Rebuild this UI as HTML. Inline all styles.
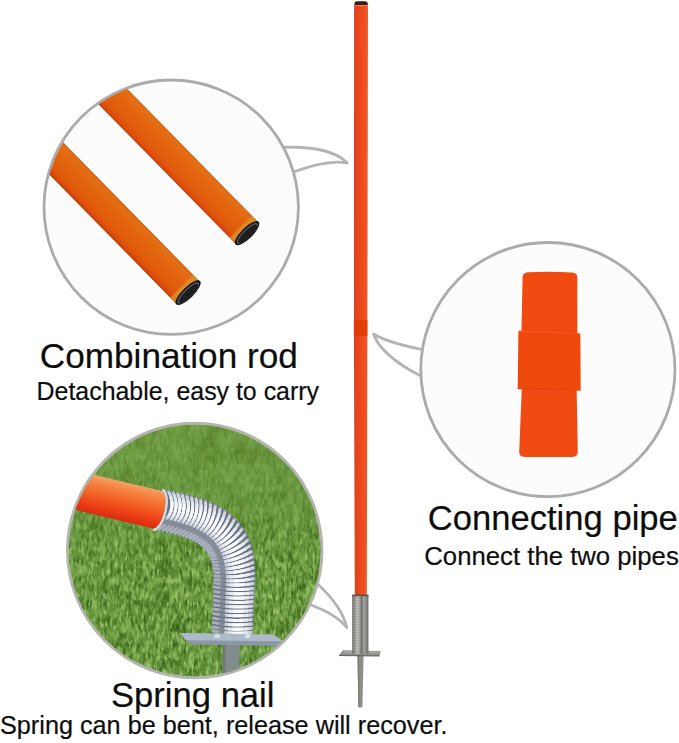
<!DOCTYPE html>
<html><head><meta charset="utf-8">
<style>
html,body{margin:0;padding:0;background:#fff;}
body{width:679px;height:743px;overflow:hidden;position:relative;font-family:"Liberation Sans",sans-serif;}
svg{position:absolute;left:0;top:0;display:block}
text{font-family:"Liberation Sans",sans-serif;fill:#0d0d0d;stroke:#0d0d0d;stroke-width:0.2px;}
</style></head><body>
<svg width="679" height="743" viewBox="0 0 679 743">
<defs>
  <linearGradient id="rodG" x1="0" x2="1" y1="0" y2="0">
    <stop offset="0" stop-color="#d84124"/><stop offset="0.2" stop-color="#e2431f"/><stop offset="0.58" stop-color="#f14b1b"/><stop offset="0.86" stop-color="#ec5425"/><stop offset="1" stop-color="#e6623c"/>
  </linearGradient>
  <linearGradient id="sprG" x1="0" x2="1" y1="0" y2="0">
    <stop offset="0" stop-color="#6c6c68"/><stop offset="0.12" stop-color="#8f8f8b"/><stop offset="0.32" stop-color="#c6c6c2"/><stop offset="0.48" stop-color="#a4a4a0"/><stop offset="0.58" stop-color="#70706c"/><stop offset="0.72" stop-color="#aeaeaa"/><stop offset="0.88" stop-color="#8b8b87"/><stop offset="1" stop-color="#6d6d69"/>
  </linearGradient>
  <linearGradient id="tubeG" gradientUnits="userSpaceOnUse" x1="0" y1="-15" x2="0" y2="16.5">
    <stop offset="0" stop-color="#c9681f"/><stop offset="0.07" stop-color="#e56f14"/><stop offset="0.35" stop-color="#e3650f"/><stop offset="0.78" stop-color="#df5a0c"/><stop offset="0.92" stop-color="#e04a0c"/><stop offset="1" stop-color="#b8430d"/>
  </linearGradient>
  <linearGradient id="grassG" x1="0" x2="0" y1="0" y2="1">
    <stop offset="0" stop-color="#6f9d43"/><stop offset="0.3" stop-color="#6a9a42"/><stop offset="0.55" stop-color="#64953c"/><stop offset="1" stop-color="#5e9038"/>
  </linearGradient>
  <linearGradient id="orG" gradientUnits="userSpaceOnUse" x1="0" y1="-19" x2="0" y2="19.5">
    <stop offset="0" stop-color="#f4a366"/><stop offset="0.22" stop-color="#f5803f"/><stop offset="0.55" stop-color="#f35a22"/><stop offset="0.82" stop-color="#e93b14"/><stop offset="1" stop-color="#d92c10"/>
  </linearGradient>
  <linearGradient id="mG" x1="0" x2="0" y1="0" y2="1">
    <stop offset="0" stop-color="#fff" stop-opacity="0.25"/><stop offset="0.3" stop-color="#fff" stop-opacity="0.4"/><stop offset="0.55" stop-color="#fff" stop-opacity="0.95"/><stop offset="1" stop-color="#fff" stop-opacity="1"/>
  </linearGradient>
  <linearGradient id="mT" x1="0" x2="0" y1="0" y2="1">
    <stop offset="0" stop-color="#fff" stop-opacity="1"/><stop offset="0.35" stop-color="#fff" stop-opacity="0.8"/><stop offset="0.6" stop-color="#fff" stop-opacity="0.15"/><stop offset="1" stop-color="#fff" stop-opacity="0"/>
  </linearGradient>
  <mask id="mk" maskUnits="userSpaceOnUse" x="60" y="420" width="270" height="262"><rect x="60" y="420" width="270" height="262" fill="url(#mG)"/></mask>
  <mask id="mkT" maskUnits="userSpaceOnUse" x="60" y="420" width="270" height="262"><rect x="60" y="420" width="270" height="262" fill="url(#mT)"/></mask>
  <pattern id="ridge" patternUnits="userSpaceOnUse" x="0" y="595" width="20" height="1.6"><rect x="0" y="0" width="20" height="0.7" fill="#5e5e5a"/></pattern>
  <clipPath id="c1"><circle cx="171.2" cy="207.2" r="126"/></clipPath>
  <clipPath id="c3"><circle cx="194.7" cy="550.5" r="126"/></clipPath>
  <filter id="gl" x="0" y="0" width="100%" height="100%" color-interpolation-filters="sRGB">
    <feTurbulence type="fractalNoise" baseFrequency="0.16 0.085" numOctaves="3" seed="11"/>
    <feColorMatrix type="matrix" values="0 0 0 0 0.57  0 0 0 0 0.74  0 0 0 0 0.38  2.3 0 0 0 -1.0"/>
  </filter>
  <filter id="gd" x="0" y="0" width="100%" height="100%" color-interpolation-filters="sRGB">
    <feTurbulence type="fractalNoise" baseFrequency="0.07 0.05" numOctaves="3" seed="5"/>
    <feColorMatrix type="matrix" values="0 0 0 0 0.22  0 0 0 0 0.40  0 0 0 0 0.09  0 2.4 0 0 -1.0"/>
  </filter>
  <filter id="gf" x="0" y="0" width="100%" height="100%" color-interpolation-filters="sRGB">
    <feTurbulence type="fractalNoise" baseFrequency="0.38 0.13" numOctaves="2" seed="41"/>
    <feColorMatrix type="matrix" values="0 0 0 0 0.64  0 0 0 0 0.79  0 0 0 0 0.44  2.6 0 0 0 -1.22"/>
  </filter>
  <filter id="gf2" x="0" y="0" width="100%" height="100%" color-interpolation-filters="sRGB">
    <feTurbulence type="fractalNoise" baseFrequency="0.3 0.12" numOctaves="2" seed="77"/>
    <feColorMatrix type="matrix" values="0 0 0 0 0.2  0 0 0 0 0.36  0 0 0 0 0.08  0 2.6 0 0 -1.25"/>
  </filter>
  <filter id="gt" x="0" y="0" width="100%" height="100%" color-interpolation-filters="sRGB">
    <feTurbulence type="fractalNoise" baseFrequency="0.045 0.03" numOctaves="2" seed="23"/>
    <feColorMatrix type="matrix" values="0 0 0 0 0.36  0 0 0 0 0.52  0 0 0 0 0.16  2.2 0 0 0 -0.95"/>
  </filter>
</defs>

<!-- main rod -->
<polygon points="354.1,4.5 368,4.5 367.4,330 366.8,595 354.8,595 353.9,330" fill="url(#rodG)"/>
<path d="M354.5,5 L354.5,3.2 Q354.5,1.2 357.5,1.2 L364.6,1.2 Q367.6,1.2 367.6,3.2 L367.6,5 Z" fill="#3a1c15"/>
<rect x="354.4" y="5" width="13.3" height="0.9" fill="#f08a68"/>
<rect x="353.9" y="319.8" width="13.5" height="16.2" fill="#e13a06" opacity="0.8"/>
<!-- main spring -->
<polygon points="357.5,655 363.6,655 362.4,707.3 358.4,707.3" fill="#8d8e87"/>
<polygon points="357.5,655 359,655 359.5,707.3 358.4,707.3" fill="#7a7b75"/>
<polygon points="343.1,650.2 380.8,651 379.4,656.1 338.8,655.6" fill="#8c8c88"/>
<polygon points="345,651 379.5,651.6 378.8,653.6 343,653.2" fill="#a6a6a2"/>
<polygon points="339.2,655 379.6,655.5 379.4,656.6 338.8,656.1" fill="#5f5f5b"/>
<rect x="352.2" y="595" width="16.2" height="59" fill="url(#sprG)"/>
<rect x="352.2" y="595" width="16.2" height="59" fill="url(#ridge)" opacity="0.28"/>
<rect x="352.2" y="594.6" width="16.2" height="1.6" fill="#55554f"/>

<!-- tails -->
<g fill="none" stroke="#b3b3b3" stroke-width="2.7" stroke-linejoin="round">
<path d="M283,147.3 C308,146.5 335,150 347.3,163 C333,160 312,165 292,172.6"/>
<path d="M424,349.8 C404,346 385,341 373.6,334 C378,348 396,364 423,377"/>
<path d="M316,582.5 C331,596 343,611 346.8,627.6 C339,618 325,610 309,604.3"/>
</g>
<!-- circle 1 -->
<circle cx="171.2" cy="207.2" r="127.2" fill="#fdfcfc" stroke="#ababab" stroke-width="2.8"/>
<g clip-path="url(#c1)">
  <g transform="translate(248,233) rotate(45.5)">
    <rect x="-230" y="-15" width="230" height="31.5" fill="url(#tubeG)"/>
    <rect x="-9.5" y="-15" width="6" height="31.5" fill="#d9952f" opacity="0.75"/>
    <ellipse cx="-0.5" cy="0.75" rx="5.6" ry="16.2" fill="#181615"/>
    <ellipse cx="-0.2" cy="0.75" rx="3.6" ry="13.4" fill="none" stroke="#5b6672" stroke-width="1.2"/>
    <ellipse cx="0.8" cy="0.9" rx="3.2" ry="12.6" fill="#1f1e1f"/>
  </g>
  <g transform="translate(189,292.5) rotate(45.5)">
    <rect x="-230" y="-15.5" width="230" height="32.5" fill="url(#tubeG)"/>
    <rect x="-9.5" y="-15.5" width="6" height="32.5" fill="#d9952f" opacity="0.75"/>
    <ellipse cx="-0.5" cy="0.75" rx="5.6" ry="16.7" fill="#181615"/>
    <ellipse cx="-0.2" cy="0.75" rx="3.6" ry="13.8" fill="none" stroke="#5b6672" stroke-width="1.2"/>
    <ellipse cx="0.8" cy="0.9" rx="3.2" ry="13" fill="#1f1e1f"/>
  </g>
</g>
<!-- tail 1 -->


<!-- circle 2 -->
<circle cx="547.9" cy="369.6" r="127.1" fill="#fdfcfc" stroke="#ababab" stroke-width="2.8"/>

<path d="M521.4,333 L522.6,277 Q522.8,272.6 528,272.2 Q550,271.2 572,272.4 Q577.2,272.8 577.3,277 L577.3,335 Z" fill="#f04a10"/>
<path d="M521.8,388 L576.6,388 L577.8,452 Q577.8,456.9 572,456.9 L525,456.9 Q519.1,456.9 519.2,452 Z" fill="#ef4b12"/>
<path d="M518.4,330.7 L550,331.4 L580.3,333.4 L580.7,390.6 L550,389.8 L517.7,389.1 Z" fill="#ef480d"/>
<path d="M517.7,388.3 L550,389 L580.7,389.8 L580.7,390.8 L550,390 L517.7,389.3 Z" fill="#d8430f" opacity="0.6"/>
<path d="M518.4,330.7 L550,331.4 L580.3,333.4 L580.3,334.6 L550,332.6 L518.4,331.9 Z" fill="#f66a35" opacity="0.55"/>

<!-- circle 3 grass -->
<circle cx="194.7" cy="550.5" r="127.2" fill="url(#grassG)" stroke="#b3b5ae" stroke-width="3"/>
<g clip-path="url(#c3)">
  <g mask="url(#mkT)"><rect x="60" y="420" width="270" height="262" filter="url(#gt)"/></g>
  <g mask="url(#mk)">
    <rect x="60" y="420" width="270" height="262" filter="url(#gd)"/>
    <rect x="60" y="420" width="270" height="262" filter="url(#gl)"/>
    <rect x="60" y="420" width="270" height="262" filter="url(#gf2)"/>
    <rect x="60" y="420" width="270" height="262" filter="url(#gf)"/>
  </g>
  <!-- spring -->
<path d="M164.6,489.6 L166.0,489.9 L167.0,490.1 L167.9,490.3 L168.9,490.5 L169.9,490.7 L170.9,490.9 L171.9,491.1 L172.9,491.3 L174.2,491.6 L175.2,491.8 L176.2,492.0 L177.2,492.2 L178.2,492.5 L179.5,492.8 L180.5,493.0 L181.5,493.2 L182.4,493.4 L183.8,493.8 L184.7,494.0 L185.7,494.2 L187.0,494.6 L188.0,494.8 L189.0,495.1 L190.3,495.4 L191.2,495.7 L192.2,495.9 L193.5,496.3 L194.5,496.6 L195.8,497.0 L196.7,497.2 L198.0,497.6 L199.0,497.9 L200.3,498.4 L201.3,498.7 L202.5,499.1 L203.5,499.4 L204.8,499.9 L206.1,500.4 L207.0,500.7 L208.3,501.2 L209.2,501.6 L210.5,502.2 L211.8,502.7 L212.7,503.1 L214.0,503.7 L215.2,504.3 L216.5,505.0 L217.4,505.4 L218.7,506.1 L219.9,506.8 L221.1,507.5 L222.3,508.2 L223.2,508.8 L224.4,509.6 L225.6,510.4 L226.8,511.2 L228.0,512.1 L229.1,513.0 L230.3,513.9 L231.4,514.8 L232.2,515.6 L233.3,516.6 L234.4,517.6 L235.4,518.7 L236.5,519.7 L237.5,520.9 L238.5,522.0 L239.5,523.2 L240.2,524.1 L241.1,525.3 L242.0,526.5 L242.9,527.8 L243.7,529.1 L244.4,530.1 L245.2,531.4 L245.9,532.8 L246.7,534.2 L247.2,535.2 L247.9,536.6 L248.5,538.1 L249.0,539.2 L249.6,540.6 L250.0,541.8 L250.6,543.3 L250.9,544.4 L251.4,545.9 L251.8,547.1 L252.1,548.3 L252.5,549.9 L252.8,551.0 L253.1,552.2 L253.4,553.8 L253.6,555.1 L253.8,556.3 L254.0,557.5 L254.2,558.8 L254.4,560.0 L254.5,561.3 L254.7,562.5 L254.8,563.8 L254.9,565.1 L255.0,566.3 L255.1,567.6 L255.1,568.9 L255.2,570.2 L255.3,571.5 L255.3,572.9 L255.3,573.7 L255.3,575.1 L255.3,576.4 L255.3,577.3 L255.3,578.7 L255.2,580.0 L255.2,581.0 L255.2,582.3 L255.1,583.3 L255.0,584.6 L255.0,585.6 L254.9,586.7 L254.8,587.8 L254.8,588.7 L254.7,589.7 L254.6,590.8 L254.6,591.8 L254.5,592.7 L254.5,593.6 L254.4,594.8 L254.4,595.7 L254.3,596.6 L254.2,597.8 L254.2,598.7 L254.2,599.7 L254.1,600.8 L254.1,601.8 L254.0,602.7 L254.0,603.6 L253.9,604.8 L253.9,605.7 L253.8,606.6 L253.8,607.8 L253.8,608.7 L253.7,609.7 L253.7,610.8 L253.6,611.7 L253.6,612.7 L253.6,613.6 L253.5,614.8 L253.5,615.7 L253.4,616.6 L253.4,617.8 L253.4,618.7 L253.3,619.7 L253.3,620.8 L253.3,621.7 L253.2,622.7 L253.2,623.6 L253.2,624.8 L253.1,625.7 L253.1,626.6 L253.0,627.8 L253.0,628.7 L253.0,629.6 L252.9,630.8 L252.9,631.7 L211.9,630.3 L212.0,629.4 L212.0,628.2 L212.0,627.3 L212.1,626.4 L212.1,625.2 L212.1,624.3 L212.2,623.4 L212.2,622.2 L212.2,621.3 L212.3,620.3 L212.3,619.4 L212.3,618.2 L212.4,617.3 L212.4,616.4 L212.5,615.2 L212.5,614.3 L212.5,613.4 L212.6,612.2 L212.6,611.3 L212.6,610.3 L212.7,609.4 L212.7,608.2 L212.7,607.3 L212.8,606.4 L212.8,605.2 L212.8,604.3 L212.9,603.4 L212.9,602.2 L212.9,601.3 L213.0,600.3 L213.0,599.4 L213.1,598.2 L213.1,597.3 L213.1,596.4 L213.2,595.2 L213.2,594.3 L213.2,593.4 L213.3,592.2 L213.3,591.3 L213.4,590.3 L213.4,589.4 L213.4,588.2 L213.5,587.3 L213.5,586.4 L213.6,585.2 L213.6,584.4 L213.6,583.8 L213.6,582.7 L213.6,582.1 L213.7,581.1 L213.7,580.5 L213.7,579.5 L213.6,578.6 L213.6,578.0 L213.6,577.0 L213.6,576.2 L213.5,575.6 L213.5,574.7 L213.4,573.9 L213.4,573.0 L213.3,572.2 L213.2,571.4 L213.1,570.6 L213.0,569.9 L212.9,569.1 L212.8,568.4 L212.7,567.7 L212.6,567.0 L212.4,566.3 L212.3,565.6 L212.2,564.9 L212.0,564.3 L211.8,563.4 L211.6,562.8 L211.5,562.2 L211.3,561.4 L211.1,560.9 L210.9,560.3 L210.6,559.6 L210.4,559.0 L210.2,558.3 L210.0,557.8 L209.7,557.2 L209.5,556.7 L209.2,556.1 L208.9,555.5 L208.6,555.0 L208.3,554.4 L208.0,553.9 L207.6,553.3 L207.4,552.9 L207.0,552.4 L206.7,551.8 L206.3,551.3 L205.9,550.8 L205.6,550.5 L205.2,550.0 L204.8,549.5 L204.4,549.0 L203.9,548.6 L203.5,548.1 L203.0,547.7 L202.6,547.2 L202.2,546.9 L201.7,546.5 L201.2,546.1 L200.7,545.7 L200.2,545.2 L199.6,544.8 L199.1,544.4 L198.5,544.0 L198.1,543.7 L197.5,543.3 L196.8,543.0 L196.2,542.6 L195.6,542.2 L195.1,541.9 L194.4,541.5 L193.7,541.2 L193.0,540.8 L192.4,540.5 L191.7,540.2 L190.9,539.8 L190.4,539.6 L189.6,539.2 L189.0,539.0 L188.2,538.6 L187.4,538.3 L186.7,538.1 L185.9,537.7 L185.2,537.5 L184.4,537.2 L183.7,536.9 L182.8,536.6 L182.1,536.4 L181.2,536.1 L180.5,535.8 L179.5,535.5 L178.8,535.3 L178.0,535.1 L177.0,534.8 L176.3,534.6 L175.5,534.4 L174.5,534.1 L173.7,533.9 L172.9,533.7 L171.9,533.4 L171.1,533.2 L170.3,533.0 L169.4,532.8 L168.3,532.5 L167.5,532.3 L166.7,532.1 L165.8,531.9 L165.0,531.7 L163.8,531.5 L163.0,531.3 L162.1,531.1 L161.2,530.9 L160.3,530.7 L159.4,530.5 L158.5,530.3 L157.6,530.1 L156.4,529.9Z" fill="#687180"/>
<path d="M153.6,529.3 L159.7,525.3 L164.6,521.1 L168.3,516.6 L170.7,511.9 L171.9,506.9 L171.9,501.6 L170.6,496.1 L168.1,490.3" fill="none" stroke="#a9b0bb" stroke-width="2.90" stroke-linecap="butt"/>
<path d="M161.6,523.8 L162.3,523.3 L162.9,522.7 L163.5,522.2 L164.1,521.6 L164.6,521.1 L165.2,520.5 L165.7,519.9 L166.2,519.3" fill="none" stroke="#838b98" stroke-width="2.90" stroke-linecap="butt"/>
<path d="M166.5,519.0 L168.7,516.0 L170.3,512.9 L171.4,509.7 L171.9,506.4 L172.0,502.9 L171.5,499.4 L170.5,495.7 L168.9,492.0" fill="none" stroke="#d2d7df" stroke-width="2.90" stroke-linecap="butt"/>
<path d="M168.6,516.1 L169.9,513.8 L170.8,511.5 L171.5,509.1 L171.9,506.7 L172.0,504.2 L171.9,501.6 L171.4,499.0 L170.7,496.3" fill="none" stroke="#e8ebf1" stroke-width="2.90" stroke-linecap="butt"/>
<path d="M170.7,511.9 L171.1,510.7 L171.4,509.4 L171.7,508.2 L171.9,506.9 L172.0,505.6 L172.0,504.3 L172.0,503.0 L171.9,501.6" fill="none" stroke="#f9fafc" stroke-width="2.80" stroke-linecap="butt"/>
<path d="M157.9,530.2 L163.9,526.2 L168.7,522.0 L172.3,517.6 L174.7,512.8 L175.9,507.8 L176.0,502.6 L174.9,497.1 L172.6,491.3" fill="none" stroke="#a9b0bb" stroke-width="2.90" stroke-linecap="butt"/>
<path d="M165.7,524.7 L166.4,524.2 L167.0,523.6 L167.6,523.1 L168.2,522.5 L168.7,522.0 L169.2,521.4 L169.8,520.8 L170.3,520.3" fill="none" stroke="#838b98" stroke-width="2.90" stroke-linecap="butt"/>
<path d="M170.5,519.9 L172.7,516.9 L174.3,513.9 L175.4,510.6 L176.0,507.3 L176.1,503.9 L175.7,500.3 L174.8,496.7 L173.4,492.9" fill="none" stroke="#d2d7df" stroke-width="2.90" stroke-linecap="butt"/>
<path d="M172.6,517.0 L173.9,514.8 L174.8,512.5 L175.5,510.1 L176.0,507.6 L176.1,505.1 L176.0,502.6 L175.6,500.0 L175.0,497.3" fill="none" stroke="#e8ebf1" stroke-width="2.90" stroke-linecap="butt"/>
<path d="M174.7,512.8 L175.1,511.6 L175.5,510.4 L175.7,509.1 L175.9,507.8 L176.1,506.5 L176.1,505.2 L176.1,503.9 L176.0,502.6" fill="none" stroke="#f9fafc" stroke-width="2.80" stroke-linecap="butt"/>
<path d="M162.1,531.1 L168.0,527.1 L172.6,523.0 L176.2,518.5 L178.6,513.9 L179.9,508.8 L180.1,503.6 L179.2,498.0 L177.1,492.3" fill="none" stroke="#a9b0bb" stroke-width="2.90" stroke-linecap="butt"/>
<path d="M169.8,525.7 L170.4,525.1 L171.0,524.6 L171.6,524.0 L172.1,523.5 L172.7,522.9 L173.2,522.4 L173.7,521.8 L174.2,521.2" fill="none" stroke="#838b98" stroke-width="2.90" stroke-linecap="butt"/>
<path d="M174.5,520.9 L176.6,517.9 L178.2,514.9 L179.3,511.7 L180.0,508.3 L180.2,504.9 L179.9,501.3 L179.1,497.7 L177.8,493.9" fill="none" stroke="#d2d7df" stroke-width="2.90" stroke-linecap="butt"/>
<path d="M176.5,518.0 L177.8,515.8 L178.8,513.5 L179.5,511.1 L180.0,508.6 L180.2,506.1 L180.1,503.6 L179.8,501.0 L179.2,498.3" fill="none" stroke="#e8ebf1" stroke-width="2.90" stroke-linecap="butt"/>
<path d="M178.6,513.9 L179.1,512.6 L179.4,511.4 L179.7,510.1 L179.9,508.8 L180.1,507.6 L180.2,506.2 L180.2,504.9 L180.1,503.6" fill="none" stroke="#f9fafc" stroke-width="2.80" stroke-linecap="butt"/>
<path d="M166.2,532.0 L171.9,528.1 L176.5,524.0 L180.0,519.6 L182.5,514.9 L183.8,509.9 L184.2,504.6 L183.4,499.1 L181.5,493.3" fill="none" stroke="#a9b0bb" stroke-width="2.90" stroke-linecap="butt"/>
<path d="M173.7,526.7 L174.3,526.1 L174.9,525.6 L175.4,525.0 L176.0,524.5 L176.5,523.9 L177.0,523.4 L177.5,522.8 L178.0,522.3" fill="none" stroke="#838b98" stroke-width="2.90" stroke-linecap="butt"/>
<path d="M178.3,521.9 L180.4,519.0 L182.0,515.9 L183.2,512.7 L183.9,509.4 L184.2,506.0 L184.0,502.4 L183.3,498.7 L182.2,494.9" fill="none" stroke="#d2d7df" stroke-width="2.90" stroke-linecap="butt"/>
<path d="M180.4,519.0 L181.6,516.8 L182.6,514.5 L183.4,512.2 L183.9,509.7 L184.1,507.2 L184.2,504.6 L183.9,502.0 L183.4,499.3" fill="none" stroke="#e8ebf1" stroke-width="2.90" stroke-linecap="butt"/>
<path d="M182.5,514.9 L182.9,513.7 L183.3,512.5 L183.6,511.2 L183.8,509.9 L184.0,508.6 L184.1,507.3 L184.2,506.0 L184.2,504.6" fill="none" stroke="#f9fafc" stroke-width="2.80" stroke-linecap="butt"/>
<path d="M170.4,533.0 L176.0,529.2 L180.5,525.1 L184.0,520.8 L186.5,516.2 L188.0,511.2 L188.5,505.9 L187.9,500.3 L186.3,494.4" fill="none" stroke="#a9b0bb" stroke-width="2.90" stroke-linecap="butt"/>
<path d="M177.7,527.8 L178.3,527.2 L178.9,526.7 L179.5,526.2 L180.0,525.6 L180.5,525.1 L181.1,524.5 L181.5,524.0 L182.0,523.4" fill="none" stroke="#838b98" stroke-width="2.90" stroke-linecap="butt"/>
<path d="M182.3,523.1 L184.4,520.2 L186.1,517.2 L187.3,514.0 L188.1,510.6 L188.4,507.2 L188.3,503.6 L187.8,499.9 L186.8,496.1" fill="none" stroke="#d2d7df" stroke-width="2.90" stroke-linecap="butt"/>
<path d="M184.4,520.2 L185.6,518.0 L186.7,515.8 L187.5,513.4 L188.0,510.9 L188.4,508.4 L188.5,505.9 L188.3,503.2 L187.9,500.5" fill="none" stroke="#e8ebf1" stroke-width="2.90" stroke-linecap="butt"/>
<path d="M186.5,516.2 L187.0,514.9 L187.4,513.7 L187.7,512.4 L188.0,511.2 L188.2,509.9 L188.3,508.5 L188.4,507.2 L188.5,505.9" fill="none" stroke="#f9fafc" stroke-width="2.80" stroke-linecap="butt"/>
<path d="M174.4,534.0 L179.9,530.3 L184.4,526.3 L187.9,522.1 L190.4,517.5 L192.0,512.5 L192.7,507.2 L192.3,501.6 L191.0,495.7" fill="none" stroke="#a9b0bb" stroke-width="2.90" stroke-linecap="butt"/>
<path d="M181.6,528.9 L182.2,528.4 L182.8,527.9 L183.3,527.4 L183.9,526.8 L184.4,526.3 L184.9,525.8 L185.4,525.2 L185.9,524.7" fill="none" stroke="#838b98" stroke-width="2.90" stroke-linecap="butt"/>
<path d="M186.2,524.3 L188.3,521.5 L190.0,518.5 L191.3,515.3 L192.1,512.0 L192.6,508.5 L192.7,504.9 L192.3,501.2 L191.5,497.4" fill="none" stroke="#d2d7df" stroke-width="2.90" stroke-linecap="butt"/>
<path d="M188.2,521.5 L189.5,519.4 L190.6,517.1 L191.4,514.7 L192.1,512.3 L192.5,509.8 L192.7,507.2 L192.6,504.5 L192.4,501.8" fill="none" stroke="#e8ebf1" stroke-width="2.90" stroke-linecap="butt"/>
<path d="M190.4,517.5 L190.9,516.3 L191.3,515.0 L191.7,513.8 L192.0,512.5 L192.3,511.2 L192.5,509.9 L192.6,508.5 L192.7,507.2" fill="none" stroke="#f9fafc" stroke-width="2.80" stroke-linecap="butt"/>
<path d="M178.2,535.1 L183.6,531.5 L188.1,527.6 L191.6,523.4 L194.2,518.9 L196.0,513.9 L196.8,508.6 L196.8,503.0 L195.8,497.0" fill="none" stroke="#a9b0bb" stroke-width="2.90" stroke-linecap="butt"/>
<path d="M185.3,530.1 L185.9,529.6 L186.5,529.1 L187.0,528.6 L187.6,528.1 L188.1,527.6 L188.6,527.1 L189.1,526.5 L189.6,526.0" fill="none" stroke="#838b98" stroke-width="2.90" stroke-linecap="butt"/>
<path d="M189.9,525.6 L192.0,522.8 L193.7,519.9 L195.1,516.7 L196.1,513.4 L196.7,509.9 L196.9,506.3 L196.7,502.6 L196.1,498.7" fill="none" stroke="#d2d7df" stroke-width="2.90" stroke-linecap="butt"/>
<path d="M192.0,522.9 L193.3,520.8 L194.4,518.5 L195.3,516.2 L196.0,513.7 L196.5,511.2 L196.8,508.6 L196.9,505.9 L196.8,503.2" fill="none" stroke="#e8ebf1" stroke-width="2.90" stroke-linecap="butt"/>
<path d="M194.2,518.9 L194.7,517.7 L195.2,516.5 L195.6,515.2 L196.0,513.9 L196.3,512.6 L196.5,511.3 L196.7,509.9 L196.8,508.6" fill="none" stroke="#f9fafc" stroke-width="2.80" stroke-linecap="butt"/>
<path d="M181.8,536.2 L187.1,532.8 L191.6,529.0 L195.2,524.9 L197.9,520.5 L199.8,515.5 L200.9,510.1 L201.1,504.5 L200.4,498.5" fill="none" stroke="#a9b0bb" stroke-width="2.90" stroke-linecap="butt"/>
<path d="M188.8,531.4 L189.4,531.0 L190.0,530.5 L190.6,530.0 L191.1,529.5 L191.6,529.0 L192.1,528.4 L192.6,527.9 L193.1,527.4" fill="none" stroke="#838b98" stroke-width="2.90" stroke-linecap="butt"/>
<path d="M193.4,527.1 L195.6,524.3 L197.4,521.4 L198.9,518.3 L200.0,514.9 L200.7,511.5 L201.1,507.8 L201.1,504.1 L200.7,500.2" fill="none" stroke="#d2d7df" stroke-width="2.90" stroke-linecap="butt"/>
<path d="M195.5,524.4 L196.9,522.3 L198.1,520.1 L199.1,517.7 L199.9,515.3 L200.5,512.7 L200.9,510.1 L201.1,507.5 L201.1,504.7" fill="none" stroke="#e8ebf1" stroke-width="2.90" stroke-linecap="butt"/>
<path d="M197.9,520.5 L198.4,519.3 L199.0,518.0 L199.4,516.7 L199.8,515.5 L200.2,514.2 L200.5,512.8 L200.7,511.5 L200.9,510.1" fill="none" stroke="#f9fafc" stroke-width="2.80" stroke-linecap="butt"/>
<path d="M185.4,537.5 L190.7,534.2 L195.2,530.6 L198.8,526.6 L201.6,522.3 L203.8,517.3 L205.2,511.9 L205.7,506.3 L205.4,500.2" fill="none" stroke="#a9b0bb" stroke-width="2.90" stroke-linecap="butt"/>
<path d="M192.4,532.9 L193.0,532.5 L193.6,532.0 L194.1,531.5 L194.7,531.0 L195.2,530.5 L195.7,530.0 L196.2,529.5 L196.7,529.0" fill="none" stroke="#838b98" stroke-width="2.90" stroke-linecap="butt"/>
<path d="M197.0,528.7 L199.2,526.0 L201.1,523.2 L202.7,520.1 L204.0,516.7 L204.9,513.3 L205.5,509.6 L205.7,505.9 L205.6,502.0" fill="none" stroke="#d2d7df" stroke-width="2.90" stroke-linecap="butt"/>
<path d="M199.2,526.1 L200.6,524.0 L201.9,521.9 L203.0,519.5 L203.9,517.1 L204.6,514.5 L205.2,511.9 L205.5,509.2 L205.7,506.5" fill="none" stroke="#e8ebf1" stroke-width="2.90" stroke-linecap="butt"/>
<path d="M201.6,522.3 L202.3,521.0 L202.8,519.8 L203.3,518.5 L203.8,517.3 L204.2,516.0 L204.6,514.6 L204.9,513.3 L205.2,511.9" fill="none" stroke="#f9fafc" stroke-width="2.80" stroke-linecap="butt"/>
<path d="M188.8,538.8 L194.1,535.7 L198.5,532.2 L202.3,528.4 L205.2,524.2 L207.7,519.2 L209.3,513.9 L210.2,508.2 L210.4,502.2" fill="none" stroke="#a9b0bb" stroke-width="2.90" stroke-linecap="butt"/>
<path d="M195.8,534.5 L196.3,534.1 L196.9,533.6 L197.5,533.1 L198.0,532.7 L198.6,532.2 L199.1,531.7 L199.6,531.2 L200.1,530.7" fill="none" stroke="#838b98" stroke-width="2.90" stroke-linecap="butt"/>
<path d="M200.4,530.4 L202.7,527.9 L204.7,525.1 L206.4,522.0 L207.9,518.7 L209.0,515.3 L209.8,511.6 L210.3,507.9 L210.4,503.9" fill="none" stroke="#d2d7df" stroke-width="2.90" stroke-linecap="butt"/>
<path d="M202.7,527.9 L204.1,525.9 L205.5,523.8 L206.7,521.5 L207.7,519.0 L208.6,516.5 L209.3,513.9 L209.8,511.2 L210.2,508.5" fill="none" stroke="#e8ebf1" stroke-width="2.90" stroke-linecap="butt"/>
<path d="M205.2,524.2 L205.9,523.0 L206.5,521.8 L207.1,520.5 L207.7,519.2 L208.1,517.9 L208.6,516.6 L209.0,515.3 L209.3,513.9" fill="none" stroke="#f9fafc" stroke-width="2.80" stroke-linecap="butt"/>
<path d="M191.9,540.2 L197.2,537.3 L201.7,534.0 L205.5,530.4 L208.7,526.3 L211.4,521.4 L213.4,516.1 L214.7,510.5 L215.3,504.4" fill="none" stroke="#a9b0bb" stroke-width="2.90" stroke-linecap="butt"/>
<path d="M198.9,536.2 L199.5,535.7 L200.0,535.3 L200.6,534.9 L201.2,534.4 L201.7,534.0 L202.3,533.5 L202.8,533.1 L203.3,532.6" fill="none" stroke="#838b98" stroke-width="2.90" stroke-linecap="butt"/>
<path d="M203.6,532.3 L206.0,529.8 L208.1,527.2 L209.9,524.2 L211.6,520.9 L212.9,517.4 L214.0,513.8 L214.7,510.1 L215.2,506.1" fill="none" stroke="#d2d7df" stroke-width="2.90" stroke-linecap="butt"/>
<path d="M205.9,529.9 L207.5,528.0 L208.9,525.9 L210.3,523.6 L211.5,521.2 L212.5,518.7 L213.4,516.1 L214.1,513.4 L214.6,510.7" fill="none" stroke="#e8ebf1" stroke-width="2.90" stroke-linecap="butt"/>
<path d="M208.7,526.3 L209.4,525.1 L210.1,523.9 L210.7,522.7 L211.4,521.4 L211.9,520.1 L212.4,518.8 L212.9,517.5 L213.4,516.1" fill="none" stroke="#f9fafc" stroke-width="2.80" stroke-linecap="butt"/>
<path d="M194.9,541.8 L200.2,539.1 L204.8,536.1 L208.8,532.6 L212.1,528.7 L215.1,523.9 L217.5,518.7 L219.3,513.1 L220.4,507.1" fill="none" stroke="#a9b0bb" stroke-width="2.90" stroke-linecap="butt"/>
<path d="M201.9,538.1 L202.5,537.7 L203.1,537.3 L203.7,536.9 L204.3,536.4 L204.8,536.0 L205.4,535.6 L205.9,535.2 L206.5,534.7" fill="none" stroke="#838b98" stroke-width="2.90" stroke-linecap="butt"/>
<path d="M206.8,534.4 L209.2,532.1 L211.4,529.6 L213.5,526.6 L215.4,523.4 L217.0,520.0 L218.3,516.5 L219.4,512.8 L220.1,508.9" fill="none" stroke="#d2d7df" stroke-width="2.90" stroke-linecap="butt"/>
<path d="M209.2,532.2 L210.8,530.3 L212.4,528.4 L213.9,526.1 L215.2,523.7 L216.4,521.3 L217.5,518.7 L218.4,516.1 L219.2,513.4" fill="none" stroke="#e8ebf1" stroke-width="2.90" stroke-linecap="butt"/>
<path d="M212.1,528.7 L212.9,527.6 L213.7,526.4 L214.4,525.2 L215.1,523.9 L215.8,522.7 L216.4,521.4 L217.0,520.1 L217.5,518.7" fill="none" stroke="#f9fafc" stroke-width="2.80" stroke-linecap="butt"/>
<path d="M197.7,543.4 L203.0,541.0 L207.6,538.2 L211.8,535.0 L215.3,531.4 L218.7,526.7 L221.5,521.7 L223.7,516.2 L225.4,510.3" fill="none" stroke="#a9b0bb" stroke-width="2.90" stroke-linecap="butt"/>
<path d="M204.7,540.1 L205.3,539.7 L205.9,539.3 L206.5,539.0 L207.1,538.6 L207.7,538.2 L208.2,537.8 L208.8,537.4 L209.4,537.0" fill="none" stroke="#838b98" stroke-width="2.90" stroke-linecap="butt"/>
<path d="M209.7,536.7 L212.3,534.5 L214.6,532.2 L216.9,529.3 L219.0,526.2 L220.8,522.9 L222.5,519.5 L223.8,515.8 L225.0,512.0" fill="none" stroke="#d2d7df" stroke-width="2.90" stroke-linecap="butt"/>
<path d="M212.2,534.6 L213.9,532.9 L215.6,531.0 L217.3,528.8 L218.8,526.5 L220.2,524.1 L221.5,521.7 L222.6,519.1 L223.6,516.4" fill="none" stroke="#e8ebf1" stroke-width="2.90" stroke-linecap="butt"/>
<path d="M215.3,531.4 L216.2,530.2 L217.1,529.1 L217.9,527.9 L218.7,526.7 L219.4,525.5 L220.1,524.2 L220.8,523.0 L221.5,521.7" fill="none" stroke="#f9fafc" stroke-width="2.80" stroke-linecap="butt"/>
<path d="M200.2,545.2 L205.5,543.1 L210.2,540.5 L214.5,537.6 L218.2,534.2 L222.0,529.8 L225.2,524.9 L228.0,519.6 L230.2,513.9" fill="none" stroke="#a9b0bb" stroke-width="2.90" stroke-linecap="butt"/>
<path d="M207.2,542.2 L207.9,541.9 L208.5,541.6 L209.1,541.2 L209.7,540.9 L210.3,540.5 L210.9,540.2 L211.4,539.8 L212.0,539.4" fill="none" stroke="#838b98" stroke-width="2.90" stroke-linecap="butt"/>
<path d="M212.3,539.2 L215.0,537.2 L217.5,534.9 L220.0,532.3 L222.3,529.3 L224.5,526.1 L226.4,522.8 L228.1,519.2 L229.6,515.5" fill="none" stroke="#d2d7df" stroke-width="2.90" stroke-linecap="butt"/>
<path d="M215.0,537.2 L216.8,535.6 L218.6,533.9 L220.4,531.8 L222.1,529.6 L223.7,527.3 L225.2,524.9 L226.6,522.4 L227.9,519.8" fill="none" stroke="#e8ebf1" stroke-width="2.90" stroke-linecap="butt"/>
<path d="M218.2,534.2 L219.2,533.1 L220.2,532.0 L221.1,530.9 L222.0,529.8 L222.9,528.6 L223.7,527.4 L224.5,526.2 L225.2,524.9" fill="none" stroke="#f9fafc" stroke-width="2.80" stroke-linecap="butt"/>
<path d="M202.5,547.1 L207.8,545.4 L212.7,543.2 L217.1,540.5 L221.1,537.4 L225.3,533.3 L229.0,528.7 L232.2,523.7 L235.0,518.2" fill="none" stroke="#a9b0bb" stroke-width="2.90" stroke-linecap="butt"/>
<path d="M209.6,544.6 L210.3,544.4 L210.9,544.1 L211.5,543.8 L212.1,543.5 L212.8,543.2 L213.4,542.8 L213.9,542.5 L214.5,542.2" fill="none" stroke="#838b98" stroke-width="2.90" stroke-linecap="butt"/>
<path d="M214.9,542.0 L217.7,540.1 L220.3,538.1 L223.0,535.7 L225.7,532.9 L228.1,529.9 L230.3,526.7 L232.4,523.4 L234.3,519.8" fill="none" stroke="#d2d7df" stroke-width="2.90" stroke-linecap="butt"/>
<path d="M217.6,540.2 L219.6,538.7 L221.5,537.1 L223.5,535.2 L225.4,533.1 L227.2,531.0 L229.0,528.7 L230.6,526.4 L232.1,523.9" fill="none" stroke="#e8ebf1" stroke-width="2.90" stroke-linecap="butt"/>
<path d="M221.1,537.4 L222.2,536.5 L223.2,535.4 L224.3,534.4 L225.3,533.3 L226.2,532.2 L227.2,531.1 L228.1,529.9 L229.0,528.7" fill="none" stroke="#f9fafc" stroke-width="2.80" stroke-linecap="butt"/>
<path d="M204.5,549.1 L209.8,547.7 L214.8,545.8 L219.4,543.5 L223.6,540.7 L228.1,536.9 L232.2,532.7 L235.9,528.0 L239.2,522.8" fill="none" stroke="#a9b0bb" stroke-width="2.90" stroke-linecap="butt"/>
<path d="M211.7,547.1 L212.3,546.8 L213.0,546.6 L213.6,546.3 L214.2,546.1 L214.8,545.8 L215.5,545.5 L216.1,545.3 L216.7,545.0" fill="none" stroke="#838b98" stroke-width="2.90" stroke-linecap="butt"/>
<path d="M217.0,544.8 L220.0,543.2 L222.7,541.4 L225.6,539.1 L228.5,536.5 L231.2,533.8 L233.7,530.8 L236.1,527.7 L238.3,524.3" fill="none" stroke="#d2d7df" stroke-width="2.90" stroke-linecap="butt"/>
<path d="M219.9,543.2 L221.9,541.9 L223.9,540.4 L226.1,538.7 L228.2,536.8 L230.2,534.8 L232.2,532.7 L234.0,530.5 L235.7,528.2" fill="none" stroke="#e8ebf1" stroke-width="2.90" stroke-linecap="butt"/>
<path d="M223.6,540.7 L224.7,539.8 L225.9,538.9 L227.0,537.9 L228.1,536.9 L229.1,535.9 L230.2,534.9 L231.2,533.8 L232.2,532.7" fill="none" stroke="#f9fafc" stroke-width="2.80" stroke-linecap="butt"/>
<path d="M206.3,551.3 L211.6,550.2 L216.7,548.7 L221.4,546.7 L225.8,544.3 L230.6,540.9 L235.0,537.0 L239.2,532.7 L243.0,527.9" fill="none" stroke="#a9b0bb" stroke-width="2.90" stroke-linecap="butt"/>
<path d="M213.5,549.7 L214.1,549.5 L214.8,549.3 L215.4,549.1 L216.1,548.9 L216.7,548.7 L217.3,548.4 L218.0,548.2 L218.6,547.9" fill="none" stroke="#838b98" stroke-width="2.90" stroke-linecap="butt"/>
<path d="M219.0,547.8 L222.0,546.4 L224.9,544.8 L227.9,542.8 L231.0,540.5 L234.0,538.0 L236.8,535.3 L239.4,532.4 L242.0,529.3" fill="none" stroke="#d2d7df" stroke-width="2.90" stroke-linecap="butt"/>
<path d="M221.9,546.4 L224.0,545.3 L226.2,544.0 L228.5,542.4 L230.7,540.7 L232.9,538.9 L235.0,537.0 L237.1,535.0 L239.0,532.9" fill="none" stroke="#e8ebf1" stroke-width="2.90" stroke-linecap="butt"/>
<path d="M225.8,544.3 L227.0,543.5 L228.2,542.6 L229.4,541.8 L230.6,540.9 L231.7,539.9 L232.8,539.0 L233.9,538.0 L235.0,537.0" fill="none" stroke="#f9fafc" stroke-width="2.80" stroke-linecap="butt"/>
<path d="M207.9,553.7 L213.2,553.0 L218.3,551.8 L223.1,550.1 L227.7,548.0 L232.8,545.1 L237.5,541.7 L242.1,537.8 L246.3,533.5" fill="none" stroke="#a9b0bb" stroke-width="2.90" stroke-linecap="butt"/>
<path d="M215.1,552.6 L215.8,552.4 L216.4,552.3 L217.1,552.1 L217.7,551.9 L218.4,551.8 L219.0,551.6 L219.6,551.4 L220.3,551.2" fill="none" stroke="#838b98" stroke-width="2.90" stroke-linecap="butt"/>
<path d="M220.7,551.0 L223.8,549.9 L226.8,548.5 L230.0,546.8 L233.3,544.8 L236.4,542.5 L239.4,540.1 L242.4,537.5 L245.2,534.7" fill="none" stroke="#d2d7df" stroke-width="2.90" stroke-linecap="butt"/>
<path d="M223.7,549.9 L225.9,548.9 L228.1,547.8 L230.6,546.4 L233.0,544.9 L235.3,543.4 L237.5,541.7 L239.8,539.9 L241.9,538.0" fill="none" stroke="#e8ebf1" stroke-width="2.90" stroke-linecap="butt"/>
<path d="M227.7,548.0 L229.0,547.3 L230.3,546.6 L231.5,545.9 L232.8,545.1 L234.0,544.3 L235.2,543.4 L236.4,542.6 L237.5,541.7" fill="none" stroke="#f9fafc" stroke-width="2.80" stroke-linecap="butt"/>
<path d="M209.2,556.2 L214.6,555.8 L219.7,554.9 L224.6,553.6 L229.3,551.8 L234.5,549.3 L239.6,546.3 L244.4,542.9 L249.0,539.1" fill="none" stroke="#a9b0bb" stroke-width="2.90" stroke-linecap="butt"/>
<path d="M216.4,555.5 L217.1,555.4 L217.8,555.3 L218.4,555.2 L219.1,555.0 L219.7,554.9 L220.4,554.7 L221.0,554.6 L221.7,554.4" fill="none" stroke="#838b98" stroke-width="2.90" stroke-linecap="butt"/>
<path d="M222.1,554.3 L225.3,553.4 L228.3,552.2 L231.7,550.8 L235.1,549.0 L238.4,547.1 L241.6,545.0 L244.7,542.7 L247.7,540.2" fill="none" stroke="#d2d7df" stroke-width="2.90" stroke-linecap="butt"/>
<path d="M225.2,553.4 L227.5,552.6 L229.7,551.6 L232.3,550.5 L234.7,549.2 L237.2,547.8 L239.6,546.3 L241.9,544.7 L244.2,543.1" fill="none" stroke="#e8ebf1" stroke-width="2.90" stroke-linecap="butt"/>
<path d="M229.3,551.8 L230.6,551.2 L232.0,550.6 L233.3,550.0 L234.5,549.3 L235.8,548.6 L237.1,547.9 L238.3,547.1 L239.6,546.3" fill="none" stroke="#f9fafc" stroke-width="2.80" stroke-linecap="butt"/>
<path d="M210.4,559.0 L215.7,558.9 L220.9,558.3 L225.9,557.3 L230.7,555.9 L236.1,553.8 L241.2,551.2 L246.3,548.3 L251.1,544.9" fill="none" stroke="#a9b0bb" stroke-width="2.90" stroke-linecap="butt"/>
<path d="M217.6,558.7 L218.3,558.7 L219.0,558.6 L219.6,558.5 L220.3,558.4 L220.9,558.3 L221.6,558.2 L222.2,558.1 L222.9,557.9" fill="none" stroke="#838b98" stroke-width="2.90" stroke-linecap="butt"/>
<path d="M223.3,557.9 L226.5,557.1 L229.7,556.2 L233.1,555.0 L236.6,553.5 L240.0,551.9 L243.3,550.1 L246.6,548.1 L249.8,545.9" fill="none" stroke="#d2d7df" stroke-width="2.90" stroke-linecap="butt"/>
<path d="M226.5,557.1 L228.8,556.5 L231.1,555.7 L233.7,554.7 L236.3,553.7 L238.8,552.5 L241.2,551.2 L243.7,549.9 L246.1,548.4" fill="none" stroke="#e8ebf1" stroke-width="2.90" stroke-linecap="butt"/>
<path d="M230.7,555.9 L232.1,555.4 L233.4,554.9 L234.7,554.3 L236.1,553.8 L237.4,553.2 L238.7,552.6 L240.0,551.9 L241.2,551.2" fill="none" stroke="#f9fafc" stroke-width="2.80" stroke-linecap="butt"/>
<path d="M211.4,562.0 L216.7,562.1 L221.8,561.8 L226.9,561.0 L231.8,559.9 L237.2,558.2 L242.5,556.1 L247.7,553.6 L252.7,550.7" fill="none" stroke="#a9b0bb" stroke-width="2.90" stroke-linecap="butt"/>
<path d="M218.6,562.0 L219.2,562.0 L219.9,561.9 L220.6,561.9 L221.2,561.8 L221.9,561.8 L222.6,561.7 L223.2,561.6 L223.9,561.5" fill="none" stroke="#838b98" stroke-width="2.90" stroke-linecap="butt"/>
<path d="M224.3,561.5 L227.5,560.9 L230.8,560.2 L234.2,559.2 L237.7,558.0 L241.2,556.6 L244.6,555.1 L248.0,553.4 L251.3,551.5" fill="none" stroke="#d2d7df" stroke-width="2.90" stroke-linecap="butt"/>
<path d="M227.5,560.9 L229.8,560.4 L232.2,559.8 L234.8,559.0 L237.4,558.1 L240.0,557.1 L242.5,556.1 L245.0,554.9 L247.5,553.7" fill="none" stroke="#e8ebf1" stroke-width="2.90" stroke-linecap="butt"/>
<path d="M231.8,559.9 L233.2,559.5 L234.5,559.1 L235.9,558.7 L237.2,558.2 L238.5,557.7 L239.9,557.2 L241.2,556.6 L242.5,556.1" fill="none" stroke="#f9fafc" stroke-width="2.80" stroke-linecap="butt"/>
<path d="M212.2,565.1 L217.4,565.4 L222.6,565.2 L227.6,564.8 L232.6,563.9 L238.1,562.5 L243.4,560.8 L248.7,558.7 L253.8,556.2" fill="none" stroke="#a9b0bb" stroke-width="2.90" stroke-linecap="butt"/>
<path d="M219.3,565.4 L220.0,565.3 L220.6,565.3 L221.3,565.3 L222.0,565.3 L222.6,565.2 L223.3,565.2 L224.0,565.1 L224.6,565.1" fill="none" stroke="#838b98" stroke-width="2.90" stroke-linecap="butt"/>
<path d="M225.0,565.1 L228.3,564.7 L231.6,564.1 L235.1,563.3 L238.6,562.4 L242.1,561.2 L245.6,560.0 L249.0,558.5 L252.4,556.9" fill="none" stroke="#d2d7df" stroke-width="2.90" stroke-linecap="butt"/>
<path d="M228.2,564.7 L230.6,564.3 L233.1,563.8 L235.7,563.2 L238.3,562.5 L240.8,561.7 L243.4,560.8 L245.9,559.8 L248.4,558.7" fill="none" stroke="#e8ebf1" stroke-width="2.90" stroke-linecap="butt"/>
<path d="M232.6,563.9 L234.0,563.6 L235.3,563.2 L236.7,562.9 L238.1,562.5 L239.4,562.1 L240.7,561.7 L242.1,561.2 L243.4,560.8" fill="none" stroke="#f9fafc" stroke-width="2.80" stroke-linecap="butt"/>
<path d="M212.8,568.5 L218.0,568.9 L223.2,569.0 L228.3,568.7 L233.3,568.1 L238.7,567.1 L244.1,565.7 L249.4,563.9 L254.6,561.8" fill="none" stroke="#a9b0bb" stroke-width="2.90" stroke-linecap="butt"/>
<path d="M219.9,569.0 L220.6,569.0 L221.2,569.0 L221.9,569.0 L222.6,569.0 L223.2,569.0 L223.9,569.0 L224.5,569.0 L225.2,568.9" fill="none" stroke="#838b98" stroke-width="2.90" stroke-linecap="butt"/>
<path d="M225.6,568.9 L228.9,568.7 L232.2,568.3 L235.7,567.7 L239.2,566.9 L242.8,566.0 L246.2,565.0 L249.7,563.8 L253.1,562.4" fill="none" stroke="#d2d7df" stroke-width="2.90" stroke-linecap="butt"/>
<path d="M228.9,568.7 L231.3,568.4 L233.7,568.0 L236.3,567.6 L238.9,567.0 L241.5,566.4 L244.1,565.7 L246.6,564.9 L249.2,564.0" fill="none" stroke="#e8ebf1" stroke-width="2.90" stroke-linecap="butt"/>
<path d="M233.3,568.1 L234.6,567.9 L236.0,567.6 L237.3,567.4 L238.7,567.1 L240.0,566.8 L241.4,566.4 L242.7,566.1 L244.1,565.7" fill="none" stroke="#f9fafc" stroke-width="2.80" stroke-linecap="butt"/>
<path d="M213.3,571.9 L218.4,572.5 L223.6,572.8 L228.7,572.7 L233.7,572.3 L239.1,571.5 L244.5,570.4 L249.8,569.0 L255.1,567.2" fill="none" stroke="#a9b0bb" stroke-width="2.90" stroke-linecap="butt"/>
<path d="M220.3,572.6 L220.9,572.7 L221.6,572.7 L222.3,572.7 L222.9,572.7 L223.6,572.8 L224.3,572.8 L224.9,572.8 L225.6,572.8" fill="none" stroke="#838b98" stroke-width="2.90" stroke-linecap="butt"/>
<path d="M226.0,572.8 L229.3,572.6 L232.7,572.4 L236.1,572.0 L239.6,571.4 L243.1,570.7 L246.6,569.8 L250.1,568.9 L253.6,567.7" fill="none" stroke="#d2d7df" stroke-width="2.90" stroke-linecap="butt"/>
<path d="M229.3,572.6 L231.7,572.5 L234.1,572.2 L236.7,571.9 L239.3,571.5 L241.9,571.0 L244.5,570.4 L247.0,569.7 L249.6,569.0" fill="none" stroke="#e8ebf1" stroke-width="2.90" stroke-linecap="butt"/>
<path d="M233.7,572.3 L235.1,572.1 L236.4,571.9 L237.8,571.7 L239.1,571.5 L240.4,571.2 L241.8,571.0 L243.1,570.7 L244.5,570.4" fill="none" stroke="#f9fafc" stroke-width="2.80" stroke-linecap="butt"/>
<path d="M213.5,575.6 L218.7,576.3 L223.8,576.7 L228.9,576.8 L234.0,576.7 L239.3,576.2 L244.7,575.4 L250.0,574.3 L255.3,572.9" fill="none" stroke="#a9b0bb" stroke-width="2.90" stroke-linecap="butt"/>
<path d="M220.5,576.5 L221.2,576.5 L221.9,576.6 L222.5,576.6 L223.2,576.7 L223.8,576.7 L224.5,576.8 L225.2,576.8 L225.8,576.8" fill="none" stroke="#838b98" stroke-width="2.90" stroke-linecap="butt"/>
<path d="M226.2,576.8 L229.6,576.8 L232.9,576.7 L236.4,576.5 L239.9,576.1 L243.4,575.6 L246.8,575.0 L250.3,574.2 L253.8,573.3" fill="none" stroke="#d2d7df" stroke-width="2.90" stroke-linecap="butt"/>
<path d="M229.5,576.8 L231.9,576.8 L234.4,576.6 L237.0,576.4 L239.5,576.1 L242.1,575.8 L244.7,575.4 L247.2,574.9 L249.8,574.3" fill="none" stroke="#e8ebf1" stroke-width="2.90" stroke-linecap="butt"/>
<path d="M234.0,576.7 L235.3,576.6 L236.7,576.5 L238.0,576.3 L239.3,576.2 L240.7,576.0 L242.0,575.8 L243.3,575.6 L244.7,575.4" fill="none" stroke="#f9fafc" stroke-width="2.80" stroke-linecap="butt"/>
<path d="M213.7,579.2 L218.8,580.0 L223.9,580.6 L229.0,580.9 L234.1,580.9 L239.4,580.7 L244.7,580.1 L250.0,579.3 L255.3,578.2" fill="none" stroke="#a9b0bb" stroke-width="2.90" stroke-linecap="butt"/>
<path d="M220.6,580.3 L221.3,580.4 L221.9,580.4 L222.6,580.5 L223.3,580.6 L223.9,580.6 L224.6,580.7 L225.3,580.7 L225.9,580.8" fill="none" stroke="#838b98" stroke-width="2.90" stroke-linecap="butt"/>
<path d="M226.3,580.8 L229.7,580.9 L233.0,580.9 L236.4,580.8 L239.9,580.6 L243.4,580.3 L246.9,579.8 L250.3,579.3 L253.8,578.6" fill="none" stroke="#d2d7df" stroke-width="2.90" stroke-linecap="butt"/>
<path d="M229.6,580.9 L232.0,581.0 L234.5,580.9 L237.0,580.8 L239.6,580.7 L242.1,580.4 L244.7,580.1 L247.2,579.8 L249.8,579.4" fill="none" stroke="#e8ebf1" stroke-width="2.90" stroke-linecap="butt"/>
<path d="M234.1,580.9 L235.4,580.9 L236.7,580.8 L238.1,580.8 L239.4,580.7 L240.7,580.6 L242.0,580.4 L243.4,580.3 L244.7,580.1" fill="none" stroke="#f9fafc" stroke-width="2.80" stroke-linecap="butt"/>
<path d="M213.6,582.7 L218.7,583.7 L223.8,584.4 L228.9,584.8 L234.0,585.0 L239.3,585.0 L244.6,584.6 L249.8,584.1 L255.1,583.3" fill="none" stroke="#a9b0bb" stroke-width="2.90" stroke-linecap="butt"/>
<path d="M220.6,584.0 L221.2,584.1 L221.9,584.2 L222.5,584.2 L223.2,584.3 L223.9,584.4 L224.5,584.5 L225.2,584.5 L225.9,584.6" fill="none" stroke="#838b98" stroke-width="2.90" stroke-linecap="butt"/>
<path d="M226.3,584.6 L229.6,584.9 L232.9,585.0 L236.4,585.0 L239.8,584.9 L243.3,584.7 L246.7,584.4 L250.2,584.0 L253.6,583.5" fill="none" stroke="#d2d7df" stroke-width="2.90" stroke-linecap="butt"/>
<path d="M229.5,584.9 L232.0,585.0 L234.4,585.0 L237.0,585.0 L239.5,585.0 L242.0,584.8 L244.6,584.6 L247.1,584.4 L249.6,584.1" fill="none" stroke="#e8ebf1" stroke-width="2.90" stroke-linecap="butt"/>
<path d="M234.0,585.0 L235.3,585.0 L236.6,585.0 L238.0,585.0 L239.3,585.0 L240.6,584.9 L241.9,584.8 L243.2,584.8 L244.6,584.6" fill="none" stroke="#f9fafc" stroke-width="2.80" stroke-linecap="butt"/>
<path d="M213.5,586.9 L218.6,587.8 L223.7,588.6 L228.7,589.1 L233.8,589.4 L239.1,589.5 L244.3,589.3 L249.6,588.9 L254.8,588.3" fill="none" stroke="#a9b0bb" stroke-width="2.90" stroke-linecap="butt"/>
<path d="M220.4,588.1 L221.1,588.3 L221.7,588.3 L222.4,588.4 L223.0,588.5 L223.7,588.6 L224.4,588.7 L225.0,588.8 L225.7,588.8" fill="none" stroke="#838b98" stroke-width="2.90" stroke-linecap="butt"/>
<path d="M226.1,588.9 L229.4,589.2 L232.8,589.4 L236.2,589.5 L239.6,589.5 L243.0,589.4 L246.5,589.2 L249.9,588.9 L253.3,588.5" fill="none" stroke="#d2d7df" stroke-width="2.90" stroke-linecap="butt"/>
<path d="M229.4,589.2 L231.8,589.3 L234.3,589.4 L236.8,589.5 L239.3,589.5 L241.8,589.4 L244.3,589.3 L246.8,589.2 L249.3,588.9" fill="none" stroke="#e8ebf1" stroke-width="2.90" stroke-linecap="butt"/>
<path d="M233.8,589.4 L235.2,589.5 L236.5,589.5 L237.8,589.5 L239.1,589.5 L240.4,589.5 L241.7,589.4 L243.0,589.4 L244.3,589.3" fill="none" stroke="#f9fafc" stroke-width="2.80" stroke-linecap="butt"/>
<path d="M213.3,591.3 L218.4,592.2 L223.5,592.9 L228.6,593.4 L233.7,593.7 L238.9,593.8 L244.1,593.6 L249.3,593.3 L254.5,592.7" fill="none" stroke="#a9b0bb" stroke-width="2.90" stroke-linecap="butt"/>
<path d="M220.2,592.5 L220.9,592.6 L221.6,592.7 L222.2,592.8 L222.9,592.8 L223.5,592.9 L224.2,593.0 L224.9,593.1 L225.5,593.1" fill="none" stroke="#838b98" stroke-width="2.90" stroke-linecap="butt"/>
<path d="M225.9,593.2 L229.3,593.5 L232.6,593.7 L236.0,593.8 L239.4,593.8 L242.8,593.7 L246.2,593.5 L249.6,593.2 L253.1,592.9" fill="none" stroke="#d2d7df" stroke-width="2.90" stroke-linecap="butt"/>
<path d="M229.2,593.5 L231.7,593.6 L234.1,593.7 L236.6,593.8 L239.1,593.8 L241.6,593.7 L244.1,593.6 L246.6,593.5 L249.1,593.3" fill="none" stroke="#e8ebf1" stroke-width="2.90" stroke-linecap="butt"/>
<path d="M233.7,593.7 L235.0,593.7 L236.3,593.8 L237.6,593.8 L238.9,593.8 L240.2,593.8 L241.5,593.7 L242.8,593.7 L244.1,593.6" fill="none" stroke="#f9fafc" stroke-width="2.80" stroke-linecap="butt"/>
<path d="M213.2,595.7 L218.2,596.6 L223.3,597.3 L228.4,597.7 L233.6,598.0 L238.7,598.1 L243.9,598.0 L249.1,597.6 L254.3,597.1" fill="none" stroke="#a9b0bb" stroke-width="2.90" stroke-linecap="butt"/>
<path d="M220.1,596.8 L220.7,596.9 L221.4,597.0 L222.1,597.1 L222.7,597.2 L223.4,597.3 L224.1,597.3 L224.7,597.4 L225.4,597.5" fill="none" stroke="#838b98" stroke-width="2.90" stroke-linecap="butt"/>
<path d="M225.8,597.5 L229.1,597.8 L232.5,598.0 L235.9,598.1 L239.2,598.1 L242.6,598.0 L246.0,597.9 L249.4,597.6 L252.8,597.3" fill="none" stroke="#d2d7df" stroke-width="2.90" stroke-linecap="butt"/>
<path d="M229.1,597.8 L231.5,597.9 L234.0,598.0 L236.4,598.1 L238.9,598.1 L241.4,598.1 L243.9,598.0 L246.4,597.8 L248.9,597.7" fill="none" stroke="#e8ebf1" stroke-width="2.90" stroke-linecap="butt"/>
<path d="M233.6,598.0 L234.8,598.1 L236.1,598.1 L237.4,598.1 L238.7,598.1 L240.0,598.1 L241.3,598.1 L242.6,598.0 L243.9,598.0" fill="none" stroke="#f9fafc" stroke-width="2.80" stroke-linecap="butt"/>
<path d="M213.0,600.1 L218.1,601.0 L223.2,601.7 L228.3,602.1 L233.4,602.4 L238.6,602.5 L243.7,602.4 L248.9,602.0 L254.1,601.5" fill="none" stroke="#a9b0bb" stroke-width="2.90" stroke-linecap="butt"/>
<path d="M219.9,601.2 L220.6,601.3 L221.2,601.4 L221.9,601.5 L222.6,601.6 L223.2,601.7 L223.9,601.7 L224.6,601.8 L225.2,601.9" fill="none" stroke="#838b98" stroke-width="2.90" stroke-linecap="butt"/>
<path d="M225.6,601.9 L229.0,602.2 L232.3,602.4 L235.7,602.5 L239.1,602.5 L242.5,602.4 L245.8,602.3 L249.2,602.0 L252.6,601.7" fill="none" stroke="#d2d7df" stroke-width="2.90" stroke-linecap="butt"/>
<path d="M228.9,602.2 L231.4,602.3 L233.8,602.4 L236.3,602.5 L238.8,602.5 L241.2,602.4 L243.7,602.4 L246.2,602.2 L248.7,602.1" fill="none" stroke="#e8ebf1" stroke-width="2.90" stroke-linecap="butt"/>
<path d="M233.4,602.4 L234.7,602.4 L236.0,602.5 L237.3,602.5 L238.6,602.5 L239.8,602.5 L241.1,602.5 L242.4,602.4 L243.7,602.4" fill="none" stroke="#f9fafc" stroke-width="2.80" stroke-linecap="butt"/>
<path d="M212.8,604.5 L217.9,605.4 L223.0,606.1 L228.1,606.6 L233.2,606.8 L238.4,606.9 L243.5,606.8 L248.7,606.5 L253.9,605.9" fill="none" stroke="#a9b0bb" stroke-width="2.90" stroke-linecap="butt"/>
<path d="M219.8,605.7 L220.4,605.8 L221.1,605.8 L221.7,605.9 L222.4,606.0 L223.1,606.1 L223.7,606.2 L224.4,606.2 L225.1,606.3" fill="none" stroke="#838b98" stroke-width="2.90" stroke-linecap="butt"/>
<path d="M225.5,606.3 L228.8,606.6 L232.2,606.8 L235.5,606.9 L238.9,606.9 L242.3,606.8 L245.7,606.7 L249.0,606.4 L252.4,606.1" fill="none" stroke="#d2d7df" stroke-width="2.90" stroke-linecap="butt"/>
<path d="M228.7,606.6 L231.2,606.7 L233.7,606.8 L236.1,606.9 L238.6,606.9 L241.1,606.9 L243.5,606.8 L246.0,606.7 L248.5,606.5" fill="none" stroke="#e8ebf1" stroke-width="2.90" stroke-linecap="butt"/>
<path d="M233.2,606.8 L234.5,606.9 L235.8,606.9 L237.1,606.9 L238.4,606.9 L239.7,606.9 L241.0,606.9 L242.3,606.8 L243.5,606.8" fill="none" stroke="#f9fafc" stroke-width="2.80" stroke-linecap="butt"/>
<path d="M212.7,608.9 L217.8,609.8 L222.9,610.5 L228.0,611.0 L233.1,611.2 L238.2,611.3 L243.4,611.2 L248.5,610.9 L253.7,610.4" fill="none" stroke="#a9b0bb" stroke-width="2.90" stroke-linecap="butt"/>
<path d="M219.6,610.1 L220.3,610.2 L220.9,610.3 L221.6,610.3 L222.3,610.4 L222.9,610.5 L223.6,610.6 L224.2,610.6 L224.9,610.7" fill="none" stroke="#838b98" stroke-width="2.90" stroke-linecap="butt"/>
<path d="M225.3,610.7 L228.7,611.0 L232.0,611.2 L235.4,611.3 L238.7,611.3 L242.1,611.2 L245.5,611.1 L248.9,610.8 L252.2,610.5" fill="none" stroke="#d2d7df" stroke-width="2.90" stroke-linecap="butt"/>
<path d="M228.6,611.0 L231.0,611.2 L233.5,611.3 L236.0,611.3 L238.4,611.3 L240.9,611.3 L243.4,611.2 L245.9,611.1 L248.3,610.9" fill="none" stroke="#e8ebf1" stroke-width="2.90" stroke-linecap="butt"/>
<path d="M233.1,611.2 L234.4,611.3 L235.7,611.3 L236.9,611.3 L238.2,611.3 L239.5,611.3 L240.8,611.3 L242.1,611.2 L243.4,611.2" fill="none" stroke="#f9fafc" stroke-width="2.80" stroke-linecap="butt"/>
<path d="M212.5,613.4 L217.6,614.2 L222.7,614.9 L227.8,615.4 L232.9,615.7 L238.1,615.7 L243.2,615.6 L248.4,615.3 L253.5,614.8" fill="none" stroke="#a9b0bb" stroke-width="2.90" stroke-linecap="butt"/>
<path d="M219.5,614.5 L220.1,614.6 L220.8,614.7 L221.4,614.8 L222.1,614.8 L222.8,614.9 L223.4,615.0 L224.1,615.1 L224.8,615.1" fill="none" stroke="#838b98" stroke-width="2.90" stroke-linecap="butt"/>
<path d="M225.2,615.2 L228.5,615.4 L231.9,615.6 L235.2,615.7 L238.6,615.7 L242.0,615.7 L245.3,615.5 L248.7,615.3 L252.1,614.9" fill="none" stroke="#d2d7df" stroke-width="2.90" stroke-linecap="butt"/>
<path d="M228.4,615.4 L230.9,615.6 L233.4,615.7 L235.8,615.7 L238.3,615.7 L240.7,615.7 L243.2,615.6 L245.7,615.5 L248.2,615.3" fill="none" stroke="#e8ebf1" stroke-width="2.90" stroke-linecap="butt"/>
<path d="M232.9,615.7 L234.2,615.7 L235.5,615.7 L236.8,615.7 L238.1,615.7 L239.4,615.7 L240.6,615.7 L241.9,615.7 L243.2,615.6" fill="none" stroke="#f9fafc" stroke-width="2.80" stroke-linecap="butt"/>
<path d="M212.4,618.0 L217.5,618.9 L222.6,619.6 L227.7,620.0 L232.8,620.3 L237.9,620.4 L243.1,620.3 L248.2,619.9 L253.3,619.4" fill="none" stroke="#a9b0bb" stroke-width="2.90" stroke-linecap="butt"/>
<path d="M219.3,619.1 L220.0,619.2 L220.6,619.3 L221.3,619.4 L221.9,619.5 L222.6,619.6 L223.3,619.6 L223.9,619.7 L224.6,619.8" fill="none" stroke="#838b98" stroke-width="2.90" stroke-linecap="butt"/>
<path d="M225.0,619.8 L228.4,620.1 L231.7,620.3 L235.1,620.4 L238.4,620.4 L241.8,620.3 L245.2,620.2 L248.5,619.9 L251.9,619.6" fill="none" stroke="#d2d7df" stroke-width="2.90" stroke-linecap="butt"/>
<path d="M228.3,620.1 L230.7,620.2 L233.2,620.3 L235.7,620.4 L238.1,620.4 L240.6,620.3 L243.1,620.3 L245.5,620.1 L248.0,620.0" fill="none" stroke="#e8ebf1" stroke-width="2.90" stroke-linecap="butt"/>
<path d="M232.8,620.3 L234.1,620.3 L235.3,620.4 L236.6,620.4 L237.9,620.4 L239.2,620.4 L240.5,620.4 L241.8,620.3 L243.1,620.3" fill="none" stroke="#f9fafc" stroke-width="2.80" stroke-linecap="butt"/>
<path d="M212.2,622.4 L217.3,623.3 L222.4,624.0 L227.5,624.5 L232.6,624.7 L237.8,624.8 L242.9,624.7 L248.0,624.4 L253.2,623.8" fill="none" stroke="#a9b0bb" stroke-width="2.90" stroke-linecap="butt"/>
<path d="M219.1,623.6 L219.8,623.7 L220.5,623.7 L221.1,623.8 L221.8,623.9 L222.5,624.0 L223.1,624.1 L223.8,624.1 L224.4,624.2" fill="none" stroke="#838b98" stroke-width="2.90" stroke-linecap="butt"/>
<path d="M224.9,624.2 L228.2,624.5 L231.6,624.7 L234.9,624.8 L238.3,624.8 L241.6,624.7 L245.0,624.6 L248.4,624.3 L251.7,624.0" fill="none" stroke="#d2d7df" stroke-width="2.90" stroke-linecap="butt"/>
<path d="M228.1,624.5 L230.6,624.6 L233.0,624.7 L235.5,624.8 L238.0,624.8 L240.4,624.8 L242.9,624.7 L245.4,624.6 L247.8,624.4" fill="none" stroke="#e8ebf1" stroke-width="2.90" stroke-linecap="butt"/>
<path d="M232.6,624.7 L233.9,624.8 L235.2,624.8 L236.5,624.8 L237.8,624.8 L239.0,624.8 L240.3,624.8 L241.6,624.7 L242.9,624.7" fill="none" stroke="#f9fafc" stroke-width="2.80" stroke-linecap="butt"/>
<path d="M212.0,626.8 L217.1,627.7 L222.3,628.4 L227.4,628.9 L232.5,629.1 L237.6,629.2 L242.7,629.1 L247.9,628.8 L253.0,628.3" fill="none" stroke="#a9b0bb" stroke-width="2.90" stroke-linecap="butt"/>
<path d="M219.0,628.0 L219.6,628.1 L220.3,628.2 L221.0,628.2 L221.6,628.3 L222.3,628.4 L223.0,628.5 L223.6,628.5 L224.3,628.6" fill="none" stroke="#838b98" stroke-width="2.90" stroke-linecap="butt"/>
<path d="M224.7,628.6 L228.1,628.9 L231.4,629.1 L234.8,629.2 L238.1,629.2 L241.5,629.1 L244.8,629.0 L248.2,628.7 L251.6,628.4" fill="none" stroke="#d2d7df" stroke-width="2.90" stroke-linecap="butt"/>
<path d="M228.0,628.9 L230.4,629.1 L232.9,629.2 L235.4,629.2 L237.8,629.2 L240.3,629.2 L242.7,629.1 L245.2,629.0 L247.7,628.8" fill="none" stroke="#e8ebf1" stroke-width="2.90" stroke-linecap="butt"/>
<path d="M232.5,629.1 L233.8,629.2 L235.0,629.2 L236.3,629.2 L237.6,629.2 L238.9,629.2 L240.2,629.2 L241.5,629.1 L242.7,629.1" fill="none" stroke="#f9fafc" stroke-width="2.80" stroke-linecap="butt"/>
<path d="M211.9,630.8 L217.0,631.7 L222.1,632.3 L227.2,632.8 L232.3,633.1 L237.5,633.2 L242.6,633.1 L247.7,632.7 L252.9,632.2" fill="none" stroke="#a9b0bb" stroke-width="2.90" stroke-linecap="butt"/>
<path d="M218.8,631.9 L219.5,632.0 L220.2,632.1 L220.8,632.2 L221.5,632.3 L222.2,632.4 L222.8,632.4 L223.5,632.5 L224.2,632.6" fill="none" stroke="#838b98" stroke-width="2.90" stroke-linecap="butt"/>
<path d="M224.6,632.6 L227.9,632.9 L231.3,633.1 L234.6,633.2 L238.0,633.2 L241.3,633.1 L244.7,632.9 L248.1,632.7 L251.4,632.4" fill="none" stroke="#d2d7df" stroke-width="2.90" stroke-linecap="butt"/>
<path d="M227.8,632.9 L230.3,633.0 L232.8,633.1 L235.2,633.2 L237.7,633.2 L240.1,633.1 L242.6,633.1 L245.1,632.9 L247.5,632.7" fill="none" stroke="#e8ebf1" stroke-width="2.90" stroke-linecap="butt"/>
<path d="M232.3,633.1 L233.6,633.1 L234.9,633.2 L236.2,633.2 L237.5,633.2 L238.8,633.2 L240.0,633.1 L241.3,633.1 L242.6,633.1" fill="none" stroke="#f9fafc" stroke-width="2.80" stroke-linecap="butt"/>
  <!-- nail & plate -->
  <rect x="222.7" y="645" width="16.8" height="40" fill="#828c8c"/>
  <rect x="222.7" y="645" width="3" height="40" fill="#6f7978"/>
  <polygon points="179.6,633 273.4,634.5 283,641.2 278.2,646 192,644.4 186.3,640.2" fill="#8a97a4"/>
  <polygon points="179.6,633 273.4,634.5 283,641.2 186.3,640.2" fill="#adbac8"/>
  <ellipse cx="217" cy="636" rx="3" ry="2.2" fill="#d5dde6"/><ellipse cx="247.6" cy="636" rx="3" ry="2.2" fill="#d5dde6"/>
  <!-- orange rod -->
  <g transform="translate(157.5,509.5) rotate(13.5)">
    <rect x="-120" y="-19" width="120" height="38.5" fill="url(#orG)"/>
    <ellipse cx="0" cy="0.25" rx="7" ry="19.25" fill="url(#orG)"/>
    <path d="M0,-20.3 A8.2,20.5 0 0 1 0,20.8" fill="none" stroke="#d3dae1" stroke-width="2.4"/>
  </g>
</g>
<!-- tail 3 -->


<!-- text -->
<text x="39.8" y="367.9" font-size="35.6" textLength="258" lengthAdjust="spacingAndGlyphs">Combination rod</text>
<text x="36.6" y="400.1" font-size="25.6" textLength="282.4" lengthAdjust="spacingAndGlyphs">Detachable, easy to carry</text>
<text x="427.8" y="529.8" font-size="35.6" textLength="250" lengthAdjust="spacingAndGlyphs">Connecting pipe</text>
<text x="424.3" y="564.6" font-size="25.6" textLength="254.5" lengthAdjust="spacingAndGlyphs">Connect the two pipes</text>
<text x="111" y="706.9" font-size="35.6" textLength="163.5" lengthAdjust="spacingAndGlyphs">Spring nail</text>
<text x="0" y="734.2" font-size="25.6" textLength="447.5" lengthAdjust="spacingAndGlyphs">Spring can be bent, release will recover.</text>
</svg>
</body></html>
